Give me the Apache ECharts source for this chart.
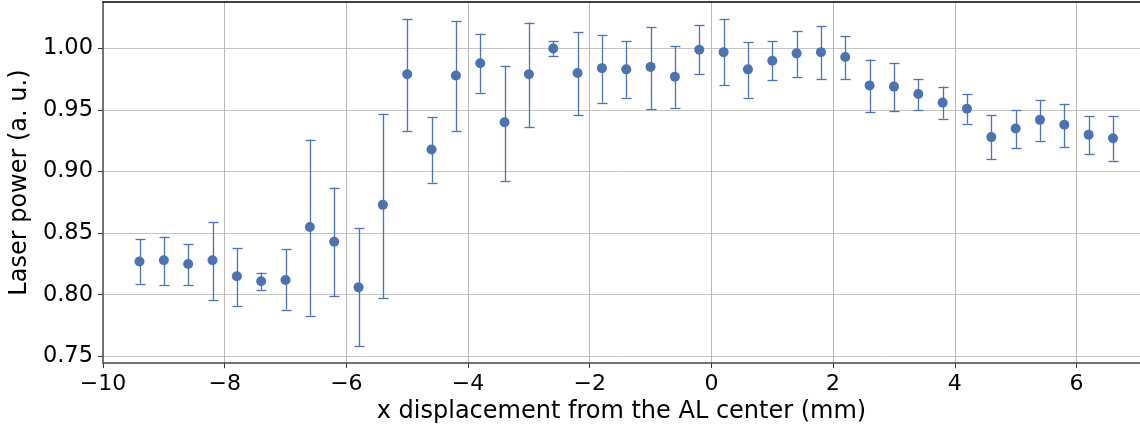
<!DOCTYPE html>
<html>
<head>
<meta charset="utf-8">
<script src="https://cdn.jsdelivr.net/npm/echarts@6/dist/echarts.min.js"></script>
<style>html,body{margin:0;padding:0;background:#fff}#c{width:1140px;height:429px}</style>
</head>
<body>
<div id="c"></div>
<script>
const xPos = [-9.4,-9.0,-8.6,-8.2,-7.8,-7.4,-7.0,-6.6,-6.2,-5.8,-5.4,-5.0,-4.6,-4.2,-3.8,-3.4,-3.0,-2.6,-2.2,-1.8,-1.4,-1.0,-0.6,-0.2,0.2,0.6,1.0,1.4,1.8,2.2,2.6,3.0,3.4,3.8,4.2,4.6,5.0,5.4,5.8,6.2,6.6];
const power = [0.827,0.828,0.825,0.828,0.815,0.811,0.812,0.855,0.843,0.806,0.873,0.979,0.918,0.978,0.988,0.940,0.979,1.000,0.980,0.984,0.983,0.985,0.977,0.999,0.997,0.983,0.990,0.996,0.997,0.993,0.970,0.969,0.963,0.956,0.951,0.928,0.935,0.942,0.938,0.930,0.927];
const upper = [0.845,0.847,0.841,0.859,0.838,0.818,0.837,0.926,0.887,0.854,0.947,1.024,0.944,1.022,1.012,0.986,1.021,1.006,1.013,1.011,1.006,1.017,1.002,1.019,1.024,1.005,1.006,1.014,1.018,1.010,0.991,0.988,0.975,0.969,0.963,0.946,0.950,0.958,0.955,0.945,0.945];
const lower = [0.809,0.808,0.808,0.796,0.791,0.804,0.788,0.783,0.799,0.758,0.797,0.933,0.891,0.933,0.964,0.892,0.936,0.994,0.946,0.956,0.960,0.951,0.952,0.979,0.970,0.960,0.974,0.977,0.975,0.975,0.948,0.949,0.950,0.943,0.939,0.910,0.919,0.925,0.920,0.914,0.909];
const xTicks = [-10,-8,-6,-4,-2,0,2,4,6];
const yTicks = [0.75,0.80,0.85,0.90,0.95,1.00];

const blue = '#4c72b0';
const font = 'DejaVu Sans';
const chart = echarts.init(document.getElementById('c'));
const pts = xPos.map((x,i)=>[x,power[i]]);
const errs = xPos.map((x,i)=>[x,lower[i],upper[i]]);

chart.setOption({
  animation:false,
  grid:{left:101.5,right:0,top:2,bottom:65.5,containLabel:false},
  xAxis:[{
    type:'value',min:-10,max:7.044,
    name:'x displacement from the AL center (mm)',nameLocation:'middle',nameGap:33,
    nameTextStyle:{fontFamily:font,fontSize:24,color:'#000'},
    axisLine:{show:true,onZero:false,lineStyle:{color:'#707070',width:2}},
    axisTick:{show:true,length:5,customValues:xTicks,lineStyle:{color:'#333',width:1}},
    axisLabel:{customValues:xTicks,fontFamily:font,fontSize:22,color:'#000',margin:10,
      formatter:v=>String(v).replace('-','\u2212')},
    splitLine:{show:true,lineStyle:{color:'#b8b8b8',width:1}}
  },{
    type:'value',position:'top',min:-10,max:7.044,
    axisLine:{show:true,onZero:false,lineStyle:{color:'#000',width:1.5}},
    axisTick:{show:false},axisLabel:{show:false},splitLine:{show:false}
  }],
  yAxis:{
    type:'value',min:0.7445,max:1.0377,
    name:'Laser power (a. u.)',nameLocation:'middle',nameGap:64,
    nameTextStyle:{fontFamily:font,fontSize:24,color:'#000'},
    axisLine:{show:true,onZero:false,lineStyle:{color:'#555',width:1.5}},
    axisTick:{show:true,length:5,customValues:yTicks,lineStyle:{color:'#333',width:1}},
    axisLabel:{customValues:yTicks,fontFamily:font,fontSize:22.5,color:'#000',margin:10,
      formatter:v=>v.toFixed(2)},
    splitLine:{show:true,lineStyle:{color:'#c4c4c4',width:1}}
  },
  series:[{
    type:'custom',
    data:errs,
    encode:{x:0,y:[1,2]},
    clip:false,
    renderItem:function(params,api){
      const x=api.value(0);
      const lo=api.coord([x,api.value(1)]);
      const hi=api.coord([x,api.value(2)]);
      const cx=Math.round(lo[0])+0.5;
      const w=5;
      const st={stroke:blue,lineWidth:1.3,fill:null};
      return {type:'group',children:[
        {type:'line',shape:{x1:cx,y1:hi[1],x2:cx,y2:lo[1]},style:st},
        {type:'line',shape:{x1:cx-w,y1:Math.round(hi[1])+0.5,x2:cx+w,y2:Math.round(hi[1])+0.5},style:st},
        {type:'line',shape:{x1:cx-w,y1:Math.round(lo[1])+0.5,x2:cx+w,y2:Math.round(lo[1])+0.5},style:st}
      ]};
    },
    z:2
  },{
    type:'scatter',
    data:pts,
    symbol:'circle',symbolSize:10,
    itemStyle:{color:blue,opacity:1},
    z:3
  }]
});
</script>
</body>
</html>
